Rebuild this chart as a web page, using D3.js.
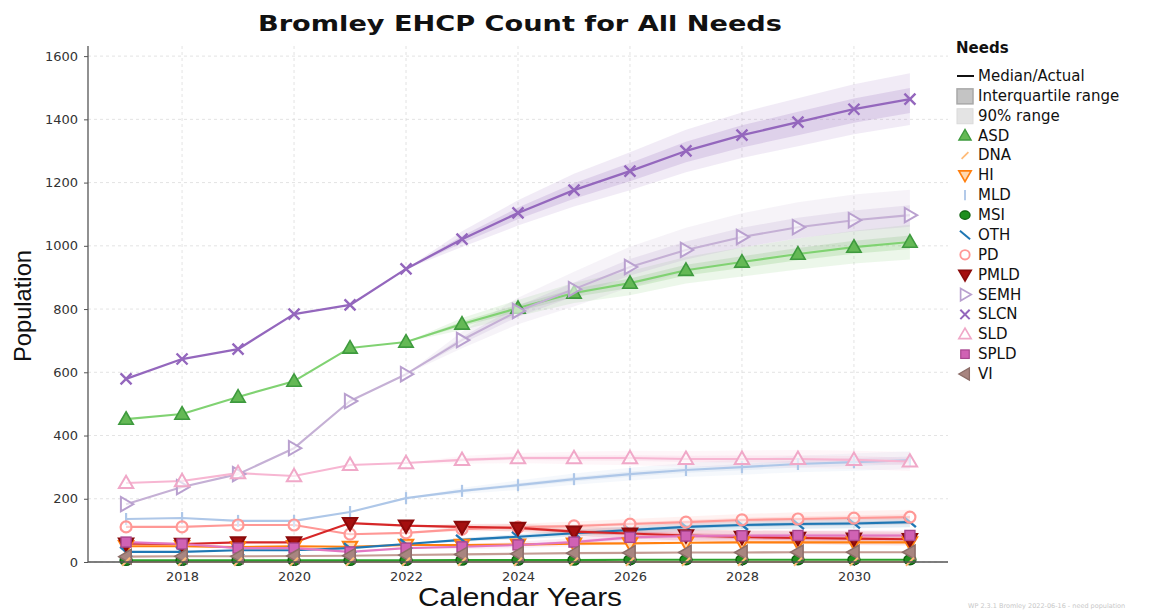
<!DOCTYPE html>
<html><head><meta charset="utf-8">
<script src="https://cdn.jsdelivr.net/npm/d3@7"></script>
<style>body{margin:0;background:#fff}svg{display:block}</style>
</head><body><svg id="c" width="1153" height="610"></svg>
<script>
// ---------- DATA ----------
const years = [2017,2018,2019,2020,2021,2022,2023,2024,2025,2026,2027,2028,2029,2030,2031];
const forecastYears = [2022,2023,2024,2025,2026,2027,2028,2029,2030,2031];
const needs = ["ASD","DNA","HI","MLD","MSI","OTH","PD","PMLD","SEMH","SLCN","SLD","SPLD","VI"];
const yTicks = [0,200,400,600,800,1000,1200,1400,1600];
const xTicks = [2018,2020,2022,2024,2026,2028,2030];

const ASD  = [452,468,522,572,677,696,753,803,851,882,923,949,974,996,1012];
const DNA  = [1,1,1,1,1,1,1,1,1,1,1,1,1,1,1];
const HI   = [50,50,47,50,48,54,54,55,58,59,61,62,62,62,62];
const MLD  = [136,139,130,130,158,202,225,243,262,278,291,300,310,316,322];
const MSI  = [5,5,5,5,5,5,6,6,6,7,7,7,7,7,7];
const OTH  = [32,32,37,37,44,57,70,80,91,101,111,117,120,122,126];
const PD   = [111,111,117,117,88,92,104,110,114,120,126,133,136,139,142];
const PMLD = [58,57,62,62,123,115,111,108,96,90,84,79,76,74,72];
const SEMH = [183,237,278,360,509,594,702,794,863,933,987,1028,1059,1081,1097];
const SLCN = [579,642,673,784,813,927,1021,1104,1176,1236,1300,1350,1391,1432,1464];
const SLD  = [250,256,281,272,307,313,323,329,329,329,326,326,326,323,318];
const SPLD = [63,57,44,44,32,44,48,54,63,78,82,83,84,84,84];
const VI   = [17,18,18,19,20,22,24,26,28,29,30,30,31,31,31];

// forecast ranges (2022-2031): 5%, 25%, 75%, 95%
const SLCN_q05 = [927,996,1064,1124,1176,1233,1278,1315,1353,1382];
const SLCN_q25 = [927,1009,1084,1149,1204,1264,1311,1350,1389,1420];
const SLCN_q75 = [927,1031,1121,1198,1262,1329,1381,1424,1466,1499];
const SLCN_q95 = [927,1046,1144,1228,1296,1367,1422,1467,1511,1546];
const SEMH_q05 = [594,676,752,808,869,917,953,980,1000,1017];
const SEMH_q25 = [594,690,776,840,906,957,995,1024,1045,1060];
const SEMH_q75 = [594,712,810,884,958,1014,1057,1089,1112,1128];
const SEMH_q95 = [594,728,836,918,997,1057,1103,1138,1162,1177];
const ASD_q05  = [696,734,777,819,844,881,903,925,944,957];
const ASD_q25  = [696,745,792,838,867,906,930,954,975,990];
const ASD_q75  = [696,761,814,864,897,940,967,993,1016,1033];
const ASD_q95  = [696,772,829,883,920,965,995,1023,1048,1067];
const SLD_q05  = [313,311,313,309,306,301,299,298,294,288];
const SLD_q25  = [313,318,323,321,320,316,315,314,311,306];
const SLD_q75  = [313,328,335,337,338,336,337,337,335,330];
const SLD_q95  = [313,335,345,349,352,351,353,354,352,348];
const MLD_q05  = [202,215,228,244,258,269,276,284,289,294];
const MLD_q25  = [202,221,237,255,270,282,290,299,304,310];
const MLD_q75  = [202,229,249,269,286,300,310,321,328,334];
const MLD_q95  = [202,235,258,280,298,313,324,336,343,350];
const PD_q05   = [92,96,99,100,104,108,114,115,117,119];
const PD_q25   = [92,101,106,109,114,119,126,128,131,134];
const PD_q75   = [92,107,114,119,126,133,140,144,147,151];
const PD_q95   = [92,112,121,128,136,144,152,157,161,165];
const OTH_q05  = [57,64,72,81,89,98,103,105,107,110];
const OTH_q25  = [57,67,76,87,96,105,111,114,116,120];
const OTH_q75  = [57,73,84,95,106,116,122,126,128,132];
const OTH_q95  = [57,76,88,101,113,124,131,135,138,142];
const PMLD_q05 = [115,102,96,82,75,67,61,57,54,52];
const PMLD_q25 = [115,107,103,90,84,77,72,68,66,64];
const PMLD_q75 = [115,115,113,102,97,92,87,85,83,81];
const PMLD_q95 = [115,120,121,112,108,104,100,98,97,96];
const SPLD_q05 = [44,40,44,50,62,68,69,69,69,69];
const SPLD_q25 = [44,45,50,58,72,77,78,78,78,78];
const SPLD_q75 = [44,51,58,68,84,88,89,90,90,90];
const SPLD_q95 = [44,56,64,76,94,98,99,100,100,100];

// ---------- STYLE TABLE ----------
const series = [
  {name:"ASD",  v:ASD,  line:"#80d272", fill:"#64b955", edge:"#3e9a3e", m:"triUp",   bands:[ASD_q05,ASD_q25,ASD_q75,ASD_q95], bc:"#6cc05c"},
  {name:"DNA",  v:DNA,  line:"#ffbb78", fill:"none",    edge:"#ffbb78", m:"slash"},
  {name:"HI",   v:HI,   line:"#ff7f0e", fill:"#ffd8b0", edge:"#ff7f0e", m:"triDown"},
  {name:"MLD",  v:MLD,  line:"#aec7e8", fill:"none",    edge:"#aec7e8", m:"vbar",    bands:[MLD_q05,MLD_q25,MLD_q75,MLD_q95], bc:"#aec7e8"},
  {name:"MSI",  v:MSI,  line:"#2ca02c", fill:"#1f8f1f", edge:"#0d5f0d", m:"circle"},
  {name:"OTH",  v:OTH,  line:"#1f77b4", fill:"none",    edge:"#1f77b4", m:"bslash",  bands:[OTH_q05,OTH_q25,OTH_q75,OTH_q95], bc:"#1f77b4"},
  {name:"PD",   v:PD,   line:"#ff9896", fill:"#ffffff", edge:"#ff9896", m:"circleO", bands:[PD_q05,PD_q25,PD_q75,PD_q95], bc:"#ff9896"},
  {name:"PMLD", v:PMLD, line:"#d62728", fill:"#a50f0f", edge:"#8a0a0a", m:"triDown", bands:[PMLD_q05,PMLD_q25,PMLD_q75,PMLD_q95], bc:"#d62728"},
  {name:"SEMH", v:SEMH, line:"#c5b0d5", fill:"#ffffff", edge:"#b9a0cf", m:"triRight",bands:[SEMH_q05,SEMH_q25,SEMH_q75,SEMH_q95], bc:"#b9a2cc"},
  {name:"SLCN", v:SLCN, line:"#9467bd", fill:"none",    edge:"#9467bd", m:"x",       bands:[SLCN_q05,SLCN_q25,SLCN_q75,SLCN_q95], bc:"#9467bd"},
  {name:"SLD",  v:SLD,  line:"#f7b6d2", fill:"#ffffff", edge:"#f0a8c8", m:"triUpO",  bands:[SLD_q05,SLD_q25,SLD_q75,SLD_q95], bc:"#f7b6d2"},
  {name:"SPLD", v:SPLD, line:"#e377c2", fill:"#d062b4", edge:"#a8468f", m:"square",  bands:[SPLD_q05,SPLD_q25,SPLD_q75,SPLD_q95], bc:"#e377c2"},
  {name:"VI",   v:VI,   line:"#c49c94", fill:"#a88580", edge:"#8c6d68", m:"triLeft"}
];

// ---------- CHART ----------
const svg = d3.select("#c");
const x = d3.scaleLinear().domain([2016.32, 2031.68]).range([88, 948]);
const y = d3.scaleLinear().domain([0, 1632]).range([562, 46]);
const FONT = "DejaVu Sans, Verdana, sans-serif";

// grid
const grid = svg.append("g");
grid.selectAll("line.h").data(yTicks).join("line")
  .attr("x1", 88).attr("x2", 948).attr("y1", d => y(d)).attr("y2", d => y(d))
  .attr("stroke", "#dcdcdc").attr("stroke-width", 0.8).attr("stroke-dasharray", "3,3");
grid.selectAll("line.v").data(xTicks).join("line")
  .attr("x1", d => x(d)).attr("x2", d => x(d)).attr("y1", 46).attr("y2", 562)
  .attr("stroke", "#dcdcdc").attr("stroke-width", 0.8).attr("stroke-dasharray", "3,3");

// bands
const bandG = svg.append("g");
series.filter(s => s.bands).forEach(s => {
  const [q05,q25,q75,q95] = s.bands;
  const a90 = d3.area().x((d,i) => x(forecastYears[i])).y0((d,i) => y(q05[i])).y1((d,i) => y(q95[i]));
  const aIQ = d3.area().x((d,i) => x(forecastYears[i])).y0((d,i) => y(q25[i])).y1((d,i) => y(q75[i]));
  bandG.append("path").attr("d", a90(q05)).attr("fill", s.bc).attr("opacity", 0.13);
  bandG.append("path").attr("d", aIQ(q25)).attr("fill", s.bc).attr("opacity", 0.2);
});

// lines
const lineGen = d3.line().x((d,i) => x(years[i])).y(d => y(d));
const lineG = svg.append("g");
series.forEach(s => {
  lineG.append("path").attr("d", lineGen(s.v)).attr("fill", "none")
    .attr("stroke", s.line).attr("stroke-width", s.name === "SLCN" ? 2.3 : 2.1)
    .attr("stroke-linejoin", "round");
});

// markers
function marker(g, s, cx, cy, scale) {
  const k = scale || 1;
  const t = `translate(${cx},${cy}) scale(${k})`;
  const tri = d3.symbol(d3.symbolTriangle, 90)();
  switch (s.m) {
    case "triUp":
      g.append("path").attr("d", tri).attr("transform", t + " translate(0,1)")
        .attr("fill", s.fill).attr("stroke", s.edge).attr("stroke-width", 1.6); break;
    case "triUpO":
      g.append("path").attr("d", tri).attr("transform", t + " translate(0,1)")
        .attr("fill", s.fill).attr("fill-opacity", 0.6).attr("stroke", s.edge).attr("stroke-width", 2); break;
    case "triDown":
      g.append("path").attr("d", tri).attr("transform", t + " rotate(180) translate(0,1)")
        .attr("fill", s.fill).attr("stroke", s.edge).attr("stroke-width", 2); break;
    case "triRight":
      g.append("path").attr("d", tri).attr("transform", t + " rotate(90) translate(0,1)")
        .attr("fill", s.fill).attr("fill-opacity", 0.6).attr("stroke", s.edge).attr("stroke-width", 2); break;
    case "triLeft":
      g.append("path").attr("d", tri).attr("transform", t + " rotate(-90) translate(0,1)")
        .attr("fill", s.fill).attr("stroke", s.edge).attr("stroke-width", 1.5); break;
    case "circle":
      g.append("ellipse").attr("transform", t).attr("rx", 6).attr("ry", 5)
        .attr("fill", s.fill).attr("stroke", s.edge).attr("stroke-width", 1.4); break;
    case "circleO":
      g.append("circle").attr("transform", t).attr("r", 5.5)
        .attr("fill", s.fill).attr("fill-opacity", 0.5).attr("stroke", s.edge).attr("stroke-width", 2.2); break;
    case "square":
      g.append("rect").attr("transform", t).attr("x", -5).attr("y", -5).attr("width", 10).attr("height", 10)
        .attr("fill", s.fill).attr("stroke", s.edge).attr("stroke-width", 1.4); break;
    case "x":
      g.append("path").attr("transform", t).attr("d", "M-5.5,-5.5L5.5,5.5M-5.5,5.5L5.5,-5.5")
        .attr("stroke", s.edge).attr("stroke-width", 2.4).attr("fill", "none"); break;
    case "vbar":
      g.append("path").attr("transform", t).attr("d", "M0,-6L0,6")
        .attr("stroke", s.edge).attr("stroke-width", 2.2).attr("fill", "none"); break;
    case "slash":
      g.append("path").attr("transform", t).attr("d", "M-4,4L4,-4")
        .attr("stroke", s.edge).attr("stroke-width", 2).attr("fill", "none"); break;
    case "bslash":
      g.append("path").attr("transform", t).attr("d", "M-6,-5L6,5")
        .attr("stroke", s.edge).attr("stroke-width", 2.4).attr("fill", "none"); break;
  }
}
const markG = svg.append("g");
const drawOrder = ["ASD","HI","MLD","MSI","OTH","PD","PMLD","SEMH","SLCN","SLD","SPLD","VI","DNA"];
drawOrder.forEach(n => {
  const s = series.find(d => d.name === n);
  s.v.forEach((val, i) => marker(markG, s, x(years[i]), y(val)));
});

// axes
const xAxis = d3.axisBottom(x).tickValues(xTicks).tickFormat(d3.format("d")).tickSize(4).tickSizeOuter(0);
const yAxis = d3.axisLeft(y).tickValues(yTicks).tickFormat(d3.format("d")).tickSize(4).tickSizeOuter(0);
const gx = svg.append("g").attr("transform", "translate(0,562)").call(xAxis);
const gy = svg.append("g").attr("transform", "translate(88,0)").call(yAxis);
[gx, gy].forEach(g => {
  g.select(".domain").attr("stroke", "#555").attr("stroke-width", 1.3);
  g.selectAll(".tick line").attr("stroke", "#555");
  g.selectAll("text").attr("font-family", FONT).attr("font-size", 13).attr("fill", "#333");
});
gx.select(".domain").attr("d", "M88,0H948");
gy.select(".domain").attr("d", "M0,562V46");
gx.selectAll("text").attr("dy", "0.95em");
gy.selectAll("text").attr("dx", "-3");

// titles
svg.append("text").attr("x", 520).attr("y", 31).attr("text-anchor", "middle")
  .attr("font-family", FONT).attr("font-weight", "bold").attr("font-size", 22)
  .attr("textLength", 524).attr("lengthAdjust", "spacingAndGlyphs").attr("fill", "#111")
  .text("Bromley EHCP Count for All Needs");
svg.append("text").attr("x", 520).attr("y", 606).attr("text-anchor", "middle")
  .attr("font-family", "Liberation Sans, Arial, sans-serif").attr("font-size", 25)
  .attr("textLength", 204).attr("lengthAdjust", "spacingAndGlyphs").attr("fill", "#111")
  .text("Calendar Years");
svg.append("text").attr("transform", "translate(31,306) rotate(-90)").attr("text-anchor", "middle")
  .attr("font-family", "Liberation Sans, Arial, sans-serif").attr("font-size", 24)
  .attr("textLength", 112).attr("lengthAdjust", "spacingAndGlyphs").attr("fill", "#111")
  .text("Population");

// legend
const lg = svg.append("g");
lg.append("text").attr("x", 956).attr("y", 53).attr("font-family", FONT).attr("font-weight", "bold")
  .attr("font-size", 15).attr("fill", "#111").text("Needs");
const rowY = i => 76 + i * 19.87;
const lt = (i, label) => lg.append("text").attr("x", 978).attr("y", rowY(i) + 5)
  .attr("font-family", FONT).attr("font-size", 15).attr("fill", "#111").text(label);
lg.append("line").attr("x1", 957).attr("x2", 974).attr("y1", rowY(0)).attr("y2", rowY(0))
  .attr("stroke", "#111").attr("stroke-width", 2);
lt(0, "Median/Actual");
lg.append("rect").attr("x", 957).attr("y", rowY(1) - 7).attr("width", 16).attr("height", 15)
  .attr("fill", "#c4c4c4").attr("stroke", "#a8a8a8").attr("stroke-width", 1.5);
lt(1, "Interquartile range");
lg.append("rect").attr("x", 957).attr("y", rowY(2) - 7).attr("width", 16).attr("height", 15)
  .attr("fill", "#e4e4e4").attr("stroke", "#dadada").attr("stroke-width", 1);
lt(2, "90% range");
series.forEach((s, i) => {
  marker(lg, s, 965, rowY(i + 3), 0.85);
  lt(i + 3, s.name);
});

// footer
svg.append("text").attr("x", 968).attr("y", 608).attr("font-family", FONT).attr("font-size", 6.5)
  .attr("fill", "#c8c8c8").text("WP 2.3.1 Bromley 2022-06-16 - need population");
</script></body></html>
